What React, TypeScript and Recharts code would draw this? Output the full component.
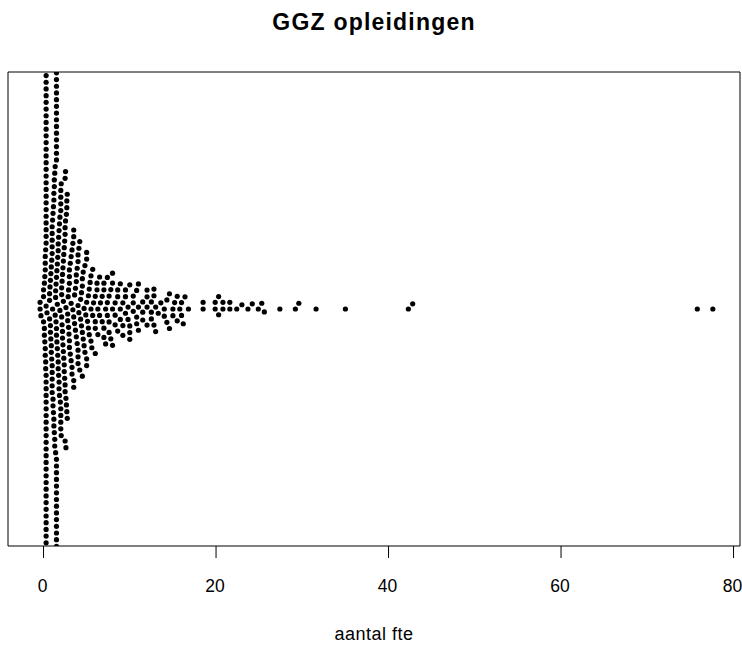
import { ScatterChart, Scatter, XAxis, YAxis, ReferenceArea } from "recharts";

const fteValues = [
  -0.4, -0.3, 0.0, 0.1, 0.15, 0.2, 0.25, 0.3, 0.35, 0.4, 0.45, 0.5, 0.55, 0.6, 0.65, 0.7,
  0.75, 0.8, 0.85, 0.9, 0.95, 1.0, 1.05, 1.1, 1.15, 1.2, 1.25, 1.3, 1.35, 1.4, 1.45, 1.5,
  1.55, 1.6, 1.65, 1.7, 1.75, 1.8, 1.85, 1.9, 1.95, 2.0, 2.05, 2.1, 2.15, 2.2, 2.25, 2.3,
  2.35, 2.4, 2.45, 2.5, 2.55, 2.6, 2.65, 2.7, 2.75, 2.8, 2.85, 2.9, 2.95, 3.0, 3.1, 3.2,
  3.3, 3.4, 3.5, 3.6, 3.7, 3.8, 3.9, 4.0, 4.1, 4.2, 4.3, 4.4, 4.5, 4.6, 4.7, 4.8, 4.9, 5.0,
  5.1, 5.2, 5.3, 5.4, 5.5, 5.6, 5.7, 5.8, 6.0, 6.2, 6.3, 6.5, 6.6, 6.8, 7.0, 7.2, 7.4, 7.6,
  7.8, 8.0, 8.3, 8.6, 8.9, 9.2, 9.5, 9.8, 10.0, 10.4, 10.8, 11.0, 11.5, 12.0, 12.5, 12.8,
  13.0, 13.3, 13.6, 14.0, 14.3, 14.6, 15.0, 15.2, 15.5, 15.8, 16.0, 16.2, 16.4, 16.8, 18.5,
  19.9, 20.3, 20.8, 21.6, 22.4, 23.0, 23.7, 24.2, 24.9, 25.3, 25.6, 27.4, 29.2, 29.6, 31.6,
  35.0, 42.3, 42.8, 75.8, 77.6,
];
const fteCounts = [
  2, 1, 3, 3, 2, 5, 3, 65, 2, 3, 2, 8, 2, 3, 2, 3,
  3, 5, 2, 3, 2, 10, 2, 3, 2, 4, 3, 3, 2, 3, 2, 55,
  3, 3, 2, 4, 2, 3, 2, 2, 1, 8, 2, 3, 2, 3, 2, 3,
  2, 3, 2, 6, 2, 3, 2, 3, 2, 2, 1, 2, 1, 5, 2, 3,
  3, 2, 5, 2, 2, 3, 2, 6, 2, 2, 2, 2, 4, 2, 2, 2, 1, 5,
  1, 2, 2, 1, 3, 1, 2, 1, 4, 2, 2, 2, 1, 2, 4, 2, 3, 3,
  2, 4, 3, 3, 3, 3, 3, 2, 4, 3, 3, 3, 3, 4, 3, 3,
  2, 1, 1, 2, 2, 2, 2, 1, 2, 1, 2, 1, 1, 1, 2,
  2, 2, 2, 2, 1, 1, 1, 1, 1, 1, 1, 1, 1, 1, 1,
  1, 1, 1, 1, 1,
];
const xTicks = [0, 20, 40, 60, 80];

const X_MIN = -4.12;
const X_MAX = 80.75;
const Y_HALF = 237; // y axis is in pixels: plot is 474 px tall
const PX_PER_FTE = 732 / (X_MAX - X_MIN);
const GAP = 6.7; // dot spacing in px

// beeswarm "swarm" layout, ascending priority
function swarm(values: number[]) {
  const xs = [...values].sort((a, b) => a - b);
  const placed: { x: number; px: number; y: number }[] = [];
  for (const v of xs) {
    const px = v * PX_PER_FTE;
    const near: { px: number; y: number }[] = [];
    for (let j = placed.length - 1; j >= 0; j--) {
      if (px - placed[j].px >= GAP) break;
      near.push(placed[j]);
    }
    const plus: number[] = [];
    const minus: number[] = [];
    near.forEach((p) => {
      const h = Math.sqrt(Math.max(0, GAP * GAP - (p.px - px) ** 2));
      plus.push(p.y + h);
      minus.push(p.y - h);
    });
    const cands = [0, ...plus, ...minus]
      .map((c, i) => ({ c, i }))
      .sort((a, b) => Math.abs(a.c) - Math.abs(b.c) || a.i - b.i);
    let y = 0;
    for (const { c } of cands) {
      const ok = near.every((p) => (p.px - px) ** 2 + (p.y - c) ** 2 >= GAP * GAP * 0.999);
      if (ok) {
        y = c;
        break;
      }
    }
    placed.push({ x: v, px, y });
  }
  return placed.map((p) => ({ x: p.x, y: p.y }));
}

const allValues: number[] = [];
fteValues.forEach((v, i) => {
  for (let k = 0; k < fteCounts[i]; k++) allValues.push(v);
});
const points = swarm(allValues);

const font = "'Liberation Sans', Arial, sans-serif";

export default function App() {
  return (
    <div
      style={{
        position: "absolute",
        left: 0,
        top: 0,
        width: 742,
        height: 645,
        background: "#fff",
        overflow: "hidden",
      }}
    >
      <div
        style={{
          position: "absolute",
          left: 8,
          width: 732,
          top: 11,
          textAlign: "center",
          fontFamily: font,
          fontWeight: "bold",
          fontSize: 23,
          lineHeight: "23px",
          letterSpacing: 1.2,
        }}
      >
        GGZ opleidingen
      </div>
      <ScatterChart width={752} height={645} margin={{ top: 72, right: 12, bottom: 0, left: 8 }}>
        <XAxis
          type="number"
          dataKey="x"
          domain={[X_MIN, X_MAX]}
          ticks={xTicks}
          allowDataOverflow
          axisLine={false}
          tickSize={12}
          tickLine={{ stroke: "#000" }}
          height={99}
          tick={(p: any) => (
            <text x={p.x - 1} y={592} textAnchor="middle" fontSize={17.5} fontFamily={font} fill="#000">
              {p.payload.value}
            </text>
          )}
        />
        <YAxis type="number" dataKey="y" domain={[-Y_HALF, Y_HALF]} allowDataOverflow hide />
        <ReferenceArea
          x1={X_MIN}
          x2={X_MAX}
          y1={-Y_HALF}
          y2={Y_HALF}
          fill="none"
          stroke="#000"
          strokeWidth={1}
          fillOpacity={0}
        />
        <Scatter
          data={points}
          isAnimationActive={false}
          shape={(p: any) => <circle cx={p.cx} cy={p.cy} r={2.6} fill="#000" />}
        />
      </ScatterChart>
      <div
        style={{
          position: "absolute",
          left: 8,
          width: 732,
          top: 625,
          textAlign: "center",
          fontFamily: font,
          fontSize: 18,
          lineHeight: "18px",
          letterSpacing: 0.5,
        }}
      >
        aantal fte
      </div>
    </div>
  );
}
